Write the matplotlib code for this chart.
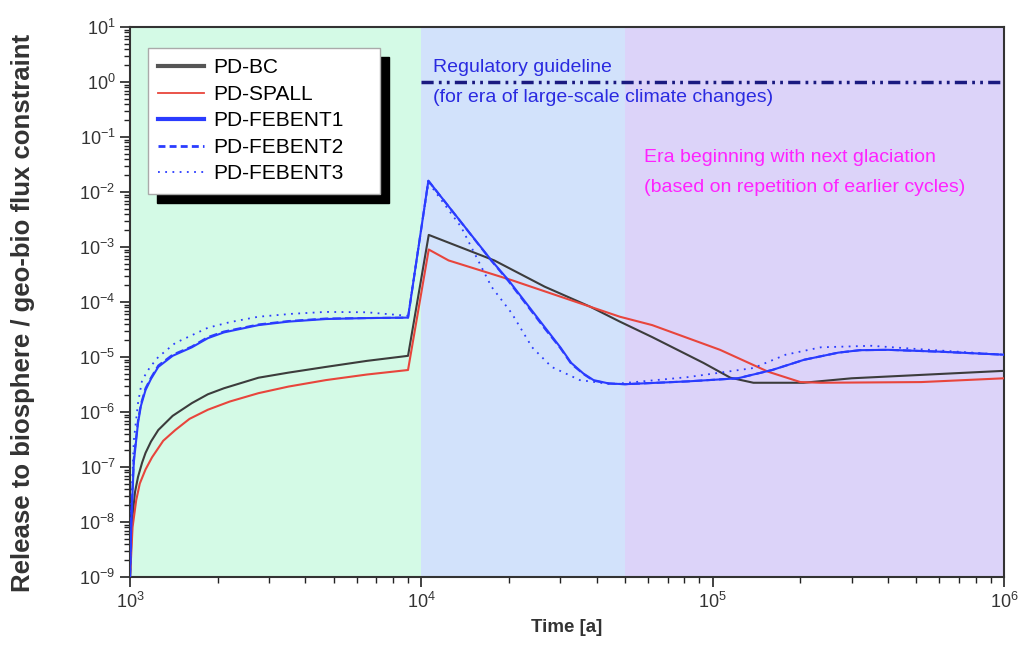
import matplotlib
matplotlib.use("Agg")
import numpy as np
import matplotlib.pyplot as plt
from matplotlib.lines import Line2D
from matplotlib.patches import Rectangle
from matplotlib.ticker import LogLocator, NullFormatter

plt.rcParams['font.family'] = ['Liberation Sans', 'DejaVu Sans']
plt.rcParams['mathtext.default'] = 'regular'

# Values (time in years, release normalised)
bc_t = [1000, 1015, 1040, 1065, 1100, 1130, 1180, 1250, 1400, 1630, 1850,
        2100, 2760, 3500, 4700, 6500, 9000,
        10600, 17800, 26500, 38000, 48000, 62000, 93000, 115000, 138000,
        205000, 300000, 1000000]
bc_v = [1e-9, 1e-8, 3.5e-8, 6.6e-8, 1.2e-7, 1.8e-7, 2.9e-7, 4.7e-7, 8.5e-7,
        1.45e-6, 2.1e-6, 2.7e-6, 4.2e-6, 5.2e-6, 6.6e-6, 8.5e-6, 1.05e-5,
        1.66e-3, 5.7e-4, 1.9e-4, 8.2e-5, 4.4e-5, 2.3e-5,
        7.8e-6, 4.2e-6, 3.4e-6, 3.4e-6, 4.1e-6, 5.6e-6]

spall_t = [1000, 1020, 1050, 1080, 1130, 1190, 1300, 1430, 1600, 1850,
           2200, 2760, 3500, 4700, 6500, 9000,
           10600, 12400, 20400, 38000, 48000, 62000, 106000, 155000, 200000,
           235000, 520000, 1000000]
spall_v = [1e-9, 8e-9, 2.5e-8, 5e-8, 9e-8, 1.5e-7, 3e-7, 4.7e-7, 7.5e-7,
           1.1e-6, 1.55e-6, 2.2e-6, 2.9e-6, 3.8e-6, 4.8e-6, 5.8e-6,
           9e-4, 5.7e-4, 2.5e-4, 8.2e-5, 5.4e-5, 3.8e-5, 1.35e-5,
           5.4e-6, 3.5e-6, 3.4e-6, 3.5e-6, 4.1e-6]

fe1_t = [1000, 1010, 1030, 1065, 1090, 1130, 1180, 1250, 1400, 1630, 1850,
         2100, 2760, 3500, 4700, 6500, 9000,
         10570, 17400, 19900, 26500, 30000, 32700, 36000, 39000, 44000,
         50000, 82000, 122000, 160000, 206000, 270000, 320000, 400000,
         600000, 1000000]
fe1_v = [1e-9, 1e-8, 1.2e-7, 6.3e-7, 1.3e-6, 2.5e-6, 4e-6, 6.6e-6, 1.05e-5,
         1.5e-5, 2.2e-5, 2.8e-5, 3.8e-5, 4.4e-5, 4.9e-5, 5.1e-5, 5.2e-5,
         1.6e-2, 5.7e-4, 2.5e-4, 3.5e-5, 1.5e-5, 7.8e-6, 5e-6, 3.8e-6,
         3.3e-6, 3.2e-6, 3.6e-6, 4.1e-6, 5.8e-6, 8.9e-6, 1.2e-5, 1.33e-5,
         1.35e-5, 1.25e-5, 1.1e-5]

fe2_t = [1000, 1010, 1030, 1065, 1090, 1130, 1180, 1250, 1400, 1630, 1850,
         2100, 2760, 3500, 4700, 6500, 9000,
         10570, 17400, 19900, 26500, 30000, 32700, 36000, 39000, 44000,
         50000, 82000, 122000, 160000, 206000, 270000, 320000, 400000,
         600000, 1000000]
fe2_v = [1e-9, 1.2e-8, 1.4e-7, 7e-7, 1.4e-6, 2.7e-6, 4.2e-6, 7e-6, 1.1e-5,
         1.55e-5, 2.3e-5, 2.9e-5, 3.9e-5, 4.5e-5, 5e-5, 5.1e-5, 5.2e-5,
         1.6e-2, 5.6e-4, 2.4e-4, 3.3e-5, 1.45e-5, 7.5e-6, 4.9e-6, 3.7e-6,
         3.3e-6, 3.2e-6, 3.6e-6, 4.1e-6, 5.8e-6, 8.9e-6, 1.2e-5, 1.33e-5,
         1.35e-5, 1.25e-5, 1.1e-5]

fe3_t = [1000, 1010, 1030, 1065, 1100, 1170, 1250, 1430, 1850, 2200, 2760,
         3600, 4700, 6500, 9000,
         10570, 13700, 17400, 20400, 24000, 28000, 35000, 45000, 82000,
         138000, 178000, 235000, 350000, 500000, 1000000]
fe3_v = [1e-9, 2e-8, 3e-7, 1.45e-6, 3.8e-6, 6.5e-6, 1e-5, 1.8e-5, 3.4e-5,
         4.3e-5, 5.4e-5, 6.1e-5, 6.6e-5, 6.5e-5, 5.6e-5,
         1.5e-2, 2.3e-3, 1.9e-4, 6.3e-5, 1.5e-5, 6.6e-6, 3.8e-6, 3.2e-6,
         4.3e-6, 6.3e-6, 1.1e-5, 1.5e-5, 1.6e-5, 1.4e-5, 1.1e-5]

guide_t = [1e4, 1e6]
guide_v = [1.0, 1.0]

eras = [(1e3, 1e4, '#d4fae6'), (1e4, 5e4, '#d2e2fb'), (5e4, 1e6, '#dcd3f9')]

c_bc = '#3c3c3c'
c_sp = '#e8453c'
c_fe = '#2a3cff'

fig = plt.figure(figsize=(10.2, 6.51), dpi=100)
ax = fig.add_axes([0.1275, 0.1137, 0.8568, 0.8448])

for x0, x1, col in eras:
    ax.axvspan(x0, x1, color=col, lw=0, zorder=0)

ax.plot(bc_t, bc_v, color=c_bc, lw=1.5, zorder=3)
ax.plot(spall_t, spall_v, color=c_sp, lw=1.5, zorder=3)
ax.plot(fe1_t, fe1_v, color=c_fe, lw=1.5, zorder=3)
ax.plot(fe2_t, fe2_v, color=c_fe, lw=1.5, ls=(0, (4, 2)), zorder=3)
ax.plot(fe3_t, fe3_v, color=c_fe, lw=1.3, ls=(0, (1, 3)), zorder=3)
ax.plot(guide_t, guide_v, color='#1a1a80', lw=2.5,
        dashes=(3.5, 1.5, 0.8, 1.5, 0.8, 1.5), zorder=3)

ax.set_xscale('log')
ax.set_yscale('log')
ax.set_xlim(1e3, 1e6)
ax.set_ylim(1e-9, 1e1)
ax.yaxis.set_major_locator(LogLocator(base=10, numticks=20))
ax.yaxis.set_minor_locator(LogLocator(base=10, subs=np.arange(2, 10),
                                      numticks=200))
ax.yaxis.set_minor_formatter(NullFormatter())

ax.tick_params(which='major', direction='out', length=7, width=1.2,
               labelsize=13, colors='#222222', labelcolor='#333333')
ax.tick_params(which='minor', direction='out', length=4, width=1,
               colors='#222222')
for s in ax.spines.values():
    s.set_color('#333333')
    s.set_linewidth(1.5)

ax.set_xlabel('Time [a]', fontsize=13.5, fontweight='bold', color='#333333',
              labelpad=5)
ax.set_ylabel('Release to biosphere / geo-bio flux constraint', fontsize=18.5,
              fontweight='bold', color='#333333')
ax.yaxis.set_label_coords(-0.109, 0.48)

ax.text(1.1e4, 1.87, 'Regulatory guideline', color='#2a2ae0', fontsize=14,
        va='center')
ax.text(1.1e4, 0.53, '(for era of large-scale climate changes)',
        color='#2a2ae0', fontsize=14, va='center')
ax.text(5.8e4, 0.0433, 'Era beginning with next glaciation',
        color='#ff22ff', fontsize=14, va='center')
ax.text(5.8e4, 0.0123, '(based on repetition of earlier cycles)',
        color='#ff22ff', fontsize=14, va='center')

handles = [Line2D([], [], color='#555555', lw=3),
           Line2D([], [], color=c_sp, lw=1.3),
           Line2D([], [], color=c_fe, lw=3),
           Line2D([], [], color=c_fe, lw=2, ls=(0, (2.5, 1.5))),
           Line2D([], [], color=c_fe, lw=1.3, ls=(0, (1, 3)))]
names = ['PD-BC', 'PD-SPALL', 'PD-FEBENT1', 'PD-FEBENT2', 'PD-FEBENT3']
leg = ax.legend(handles, names, loc='upper left',
                bbox_to_anchor=(0.0206, 0.6945, 0.2654, 0.2673),
                mode='expand', borderaxespad=0,
                fontsize=15, handlelength=2.2, handletextpad=0.45,
                labelspacing=0.36, borderpad=0.5, fancybox=False,
                framealpha=1, edgecolor='#aaaaaa')
leg.get_frame().set_linewidth(1)
leg.set_zorder(6)

# black drop shadow behind the legend box
fig.canvas.draw()
bb = leg.get_window_extent().transformed(fig.transFigure.inverted())
off_x = 9 / 1020
off_y = 9 / 651
ax.add_patch(Rectangle((bb.x0 + off_x, bb.y0 - off_y), bb.width, bb.height,
                       transform=fig.transFigure, color='black', zorder=5,
                       clip_on=False))

fig.savefig('out.png', dpi=100)
